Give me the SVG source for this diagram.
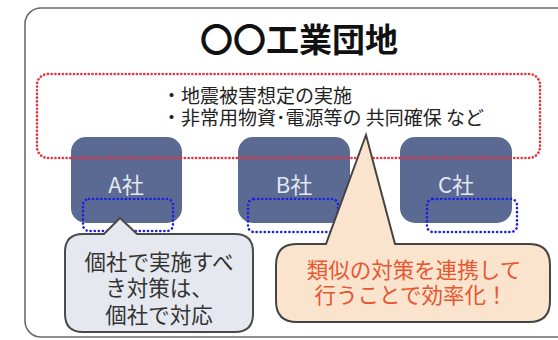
<svg xmlns="http://www.w3.org/2000/svg" width="558" height="340" viewBox="0 0 558 340">
<style>
text{font-family:"Noto Sans CJK JP","Noto Sans",sans-serif}
.co{fill:#5b6a93}
.lbl{fill:#e4e8f1;font-size:22px;text-anchor:middle;dominant-baseline:central}
.blue{fill:none;stroke:#1e1ee6;stroke-width:2.6;stroke-dasharray:0.1 4;stroke-linecap:round}
.red{fill:none;stroke:#e8323c;stroke-width:2.6;stroke-dasharray:0.1 3.6;stroke-linecap:round}
.ct{font-size:21.5px;text-anchor:middle;dominant-baseline:central}
.bl{font-size:19px;dominant-baseline:central;fill:#222}
</style>
<rect id="frame" x="25" y="8" width="560" height="329" rx="16" fill="#ffffff" stroke="#6b6b6b" stroke-width="1.6"/>
<text x="299" y="38" font-size="33" font-weight="bold" text-anchor="middle" dominant-baseline="central" fill="#111">〇〇工業団地</text>
<g id="companyA">
<rect class="co" x="71" y="137" width="111" height="86" rx="15"/>
<text class="lbl" x="126" y="183">A社</text>
</g>
<g id="companyB">
<rect class="co" x="238" y="137" width="112" height="86" rx="15"/>
<text class="lbl" x="294" y="183">B社</text>
</g>
<g id="companyC">
<rect class="co" x="400" y="137" width="112" height="86" rx="15"/>
<text class="lbl" x="456" y="183">C社</text>
</g>
<g id="shared">
<rect class="red" x="37" y="74" width="503" height="84" rx="11"/>
<text class="bl" x="162" y="94">・地震被害想定の実施</text>
<text class="bl" x="162" y="116">・非常用物資･電源等の 共同確保 など</text>
</g>
<g id="individual">
<rect class="blue" x="83" y="199" width="90" height="32" rx="6"/>
<rect class="blue" x="248" y="199" width="90" height="33" rx="6"/>
<rect class="blue" x="427" y="199" width="90" height="33" rx="6"/>
</g>
<g id="calloutLeft">
<path d="M83,234 L104,234 L120,218 L137,234 L235,234 Q253,234 253,252 L253,314 Q253,332 235,332 L83,332 Q65,332 65,314 L65,252 Q65,234 83,234 Z" fill="#e5e9ef" stroke="#4a4a4a" stroke-width="2"/>
<text class="ct" x="159" y="260" fill="#333">個社で実施すべ</text>
<text class="ct" x="159" y="286" fill="#333">き対策は、</text>
<text class="ct" x="159" y="313" fill="#333">個社で対応</text>
</g>
<g id="calloutRight">
<path d="M297,244 L326,244 L366,135 L395,244 L529,244 Q550,244 550,265 L550,301 Q550,322 529,322 L297,322 Q276,322 276,301 L276,265 Q276,244 297,244 Z" fill="#fbe4ce" stroke="#444" stroke-width="2"/>
<text class="ct" x="414" y="268" fill="#e8552e">類似の対策を連携して</text>
<text class="ct" x="411" y="293" fill="#e8552e">行うことで効率化！</text>
</g>
</svg>
